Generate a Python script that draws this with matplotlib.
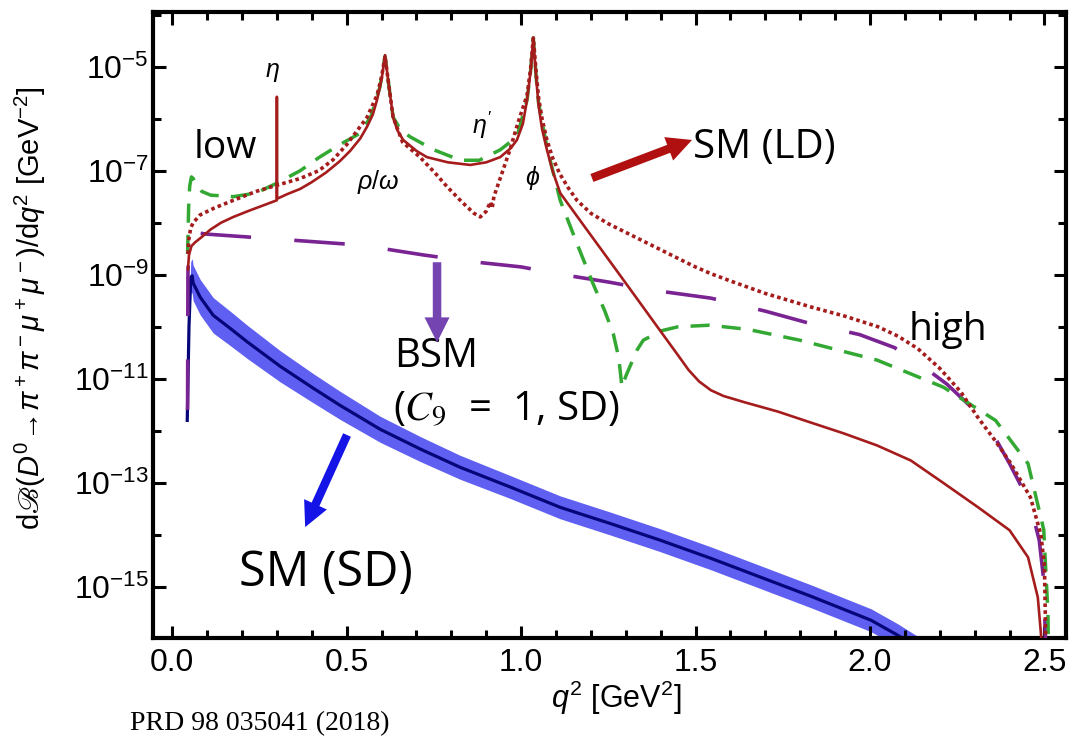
import numpy as np
import matplotlib
matplotlib.use("Agg")
import matplotlib.pyplot as plt
from matplotlib.ticker import FixedLocator, FuncFormatter

plt.rcParams['font.family'] = ['Liberation Sans', 'DejaVu Sans']
plt.rcParams['mathtext.fontset'] = 'custom'
plt.rcParams['mathtext.rm'] = 'Liberation Sans'
plt.rcParams['mathtext.it'] = 'Liberation Sans:italic'
plt.rcParams['mathtext.bf'] = 'Liberation Sans:bold'
plt.rcParams['mathtext.fallback'] = 'stix'

# ---------------- data (q^2 in GeV^2, log10 of dB/dq^2) ----------------
# SM long-distance, solid
ld_q2 = [0.045, 0.048, 0.055, 0.065, 0.080, 0.110, 0.140, 0.175, 0.220, 0.260,
         0.2995, 0.300, 0.3005, 0.330, 0.367, 0.400, 0.440, 0.480, 0.510, 0.539,
         0.558, 0.575, 0.587, 0.600, 0.610, 0.620, 0.633, 0.645, 0.662, 0.700,
         0.730, 0.790, 0.854, 0.900, 0.940, 0.970, 0.988, 1.005, 1.017, 1.027,
         1.035, 1.043, 1.050, 1.060, 1.074, 1.090, 1.112, 1.190, 1.264, 1.330,
         1.398, 1.450, 1.480, 1.510, 1.544, 1.580, 1.640, 1.736, 1.830, 1.925,
         2.020, 2.117, 2.210, 2.310, 2.400, 2.453, 2.481, 2.490, 2.495]
ld_log = [-8.90, -8.62, -8.45, -8.38, -8.30, -8.13, -8.00, -7.89, -7.77, -7.67,
          -7.57, -5.58, -7.54, -7.45, -7.35, -7.22, -7.04, -6.82, -6.62, -6.38,
          -6.16, -5.92, -5.64, -5.25, -4.78, -5.32, -5.97, -6.22, -6.41, -6.62,
          -6.74, -6.84, -6.89, -6.84, -6.74, -6.57, -6.41, -6.10, -5.64, -5.10,
          -4.45, -5.20, -5.75, -6.20, -6.60, -7.00, -7.43, -8.15, -8.83, -9.44,
          -10.07, -10.55, -10.83, -11.05, -11.22, -11.33, -11.45, -11.63, -11.84, -12.05,
          -12.28, -12.57, -13.00, -13.47, -13.91, -14.43, -15.20, -15.90, -16.5]

# SM long-distance variant, dotted
ld2_q2 = [0.045, 0.048, 0.053, 0.060, 0.080, 0.120, 0.175, 0.240, 0.300, 0.367,
          0.420, 0.461, 0.500, 0.539, 0.558, 0.587, 0.600, 0.610, 0.620, 0.633,
          0.660, 0.710, 0.750, 0.788, 0.830, 0.865, 0.883, 0.900, 0.912, 0.917,
          0.922, 0.945, 0.968, 0.990, 1.017, 1.027, 1.035, 1.043, 1.050, 1.060,
          1.074, 1.090, 1.110, 1.135, 1.160, 1.200, 1.250, 1.304, 1.400, 1.493,
          1.544, 1.600, 1.700, 1.831, 1.930, 2.023, 2.080, 2.137, 2.200, 2.260,
          2.310, 2.360, 2.404, 2.460, 2.490, 2.500, 2.505]
ld2_log = [-8.60, -8.30, -8.10, -8.00, -7.85, -7.72, -7.57, -7.40, -7.28, -7.15,
           -7.00, -6.79, -6.50, -6.15, -5.98, -5.55, -5.20, -4.80, -5.32, -5.97,
           -6.45, -6.74, -7.02, -7.31, -7.60, -7.82, -7.89, -7.78, -7.60, -7.72,
           -7.50, -7.05, -6.60, -6.10, -5.55, -5.05, -4.45, -5.10, -5.60, -6.00,
           -6.41, -6.75, -7.05, -7.33, -7.57, -7.82, -8.02, -8.20, -8.52, -8.83,
           -8.98, -9.12, -9.36, -9.62, -9.80, -10.00, -10.18, -10.42, -10.80, -11.25,
           -11.75, -12.20, -12.63, -13.28, -14.00, -14.60, -16.5]

# alternative long-distance model, green dashed
alt_q2 = [0.044, 0.047, 0.050, 0.055, 0.060, 0.067, 0.085, 0.110, 0.175, 0.240,
          0.300, 0.367, 0.420, 0.480, 0.539, 0.570, 0.595, 0.610, 0.620, 0.633,
          0.655, 0.682, 0.750, 0.826, 0.880, 0.940, 0.988, 1.017, 1.027, 1.035,
          1.043, 1.050, 1.074, 1.112, 1.160, 1.206, 1.240, 1.264, 1.280, 1.289,
          1.300, 1.332, 1.350, 1.400, 1.450, 1.540, 1.650, 1.800, 2.020, 2.210,
          2.360, 2.453, 2.498, 2.510, 2.512]
alt_log = [-8.60, -7.70, -7.30, -7.12, -7.15, -7.25, -7.40, -7.47, -7.50, -7.43,
           -7.24, -7.00, -6.75, -6.50, -6.28, -5.95, -5.40, -4.80, -5.32, -5.97,
           -6.22, -6.35, -6.60, -6.80, -6.80, -6.60, -6.35, -5.64, -5.10, -4.45,
           -5.20, -5.70, -6.55, -7.57, -8.40, -9.17, -9.70, -10.13, -10.60, -11.16,
           -10.95, -10.45, -10.26, -10.08, -10.00, -9.97, -10.05, -10.26, -10.64, -11.16,
           -11.80, -12.63, -13.90, -15.50, -16.5]

# BSM (C9 = 1, SD), purple long dashes
bsm_q2 = [0.044, 0.045, 0.048, 0.055, 0.100, 0.270, 0.539, 0.720, 0.860, 1.000,
          1.120, 1.250, 1.380, 1.544, 1.700, 1.830, 1.970, 2.070, 2.140, 2.220,
          2.310, 2.360, 2.400, 2.440, 2.466, 2.485, 2.498, 2.505]
bsm_log = [-11.6, -9.0, -8.30, -8.18, -8.22, -8.30, -8.43, -8.62, -8.75, -8.85,
           -9.00, -9.14, -9.30, -9.45, -9.70, -9.94, -10.15, -10.40, -10.70, -11.10,
           -11.67, -12.15, -12.63, -13.15, -13.60, -14.10, -14.87, -16.5]

# SM short-distance, central value and band half-width (decades)
sd_q2 = [0.043, 0.048, 0.053, 0.057, 0.060, 0.080, 0.1175, 0.166, 0.215, 0.3095,
         0.404, 0.481, 0.596, 0.711, 0.825, 0.969, 1.112, 1.255, 1.398, 1.544,
         1.831, 2.003, 2.080, 2.158]
sd_log = [-11.8, -10.0, -9.05, -9.02, -9.16, -9.43, -9.78, -10.03, -10.29, -10.76,
          -11.18, -11.51, -11.97, -12.35, -12.70, -13.08, -13.47, -13.78, -14.10, -14.45,
          -15.18, -15.64, -15.93, -16.26]
sd_err = [0.0, 0.15, 0.30, 0.33, 0.34, 0.34, 0.34, 0.33, 0.32, 0.30,
          0.28, 0.27, 0.25, 0.24, 0.23, 0.22, 0.22, 0.22, 0.22, 0.22,
          0.22, 0.22, 0.22, 0.22]

xticks = [0.0, 0.5, 1.0, 1.5, 2.0, 2.5]
ytick_exp = [-15, -13, -11, -9, -7, -5]
yminor_exp = [-16, -14, -12, -10, -8, -6, -4]

# ---------------- figure ----------------
fig = plt.figure(figsize=(10.71, 7.47), dpi=100)
ax = fig.add_axes([0.1429, 0.146, 0.8525, 0.838])
ax.set_yscale('log')

c_red = '#a51c1c'
c_green = '#33a833'
c_purple = '#7a2393'

sdq = np.array(sd_q2)
sdc = np.array(sd_log)
sde = np.array(sd_err)
ax.fill_between(sdq, 10 ** (sdc - sde), 10 ** (sdc + sde), color='#5656f2',
                lw=0, alpha=0.95, zorder=1)
ax.plot(sdq, 10 ** sdc, color='#06067a', lw=2.3, zorder=2)

ax.plot(bsm_q2, 10 ** np.array(bsm_log), color=c_purple, lw=2.6,
        linestyle=(0, (14, 12)), zorder=3)
ax.plot(alt_q2, 10 ** np.array(alt_log), color=c_green, lw=2.5,
        linestyle=(0, (5.5, 3.5)), zorder=4)
ax.plot(ld2_q2, 10 ** np.array(ld2_log), color=c_red, lw=2.6,
        linestyle=(0, (1, 0.9)), zorder=5)
ax.plot(ld_q2, 10 ** np.array(ld_log), color=c_red, lw=1.9, zorder=6)

ax.set_xlim(-0.055, 2.562)
ax.set_ylim(10 ** -15.98, 10 ** -3.95)

ax.xaxis.set_major_locator(FixedLocator(xticks))
ax.xaxis.set_minor_locator(FixedLocator(np.round(np.arange(0.0, 2.55, 0.1), 2)))
ax.xaxis.set_major_formatter(FuncFormatter(lambda v, p: f'{v:.1f}'))
ax.yaxis.set_major_locator(FixedLocator([10.0 ** e for e in ytick_exp]))
ax.yaxis.set_minor_locator(FixedLocator([10.0 ** e for e in yminor_exp]))
ax.yaxis.set_major_formatter(FuncFormatter(
    lambda v, p: r'$\mathdefault{10^{%d}}$' % int(round(np.log10(v)))))
ax.yaxis.set_minor_formatter(FuncFormatter(lambda v, p: ''))

for s in ax.spines.values():
    s.set_linewidth(3.0)
ax.tick_params(which='both', direction='in', top=True, right=True, width=2.2,
               labelsize=23, colors='black')
ax.tick_params(which='major', length=9)
ax.tick_params(axis='x', which='major', pad=7)
ax.tick_params(axis='y', which='major', pad=3)
ax.tick_params(which='minor', length=6)

# axis labels
fig.text(30 / 1071, 1 - 308 / 747,
         r'd$ℬ$($D^0\!\rightarrow\!\pi^+\pi^-\mu^+\mu^-$)/d$q^2$ [GeV$^{-2}$]',
         rotation=90, ha='center', va='center', fontsize=21)
fig.text(616 / 1071, 1 - 698 / 747, r'$q^2$ [GeV$^2$]', ha='center', va='center',
         fontsize=22)
fig.text(260 / 1071, 1 - 724 / 747, 'PRD 98 035041 (2018)', ha='center',
         va='center', fontsize=20, family='Liberation Serif')

# annotations
ann = dict(family=['Open Sans', 'DejaVu Sans'], color='black')
ax.text(0.152, 10 ** -6.57, 'low', ha='center', va='center', fontsize=28, **ann)
ax.text(2.222, 10 ** -10.06, 'high', ha='center', va='center', fontsize=28, **ann)
ax.text(1.493, 10 ** -6.56, 'SM (LD)', ha='left', va='center', fontsize=29, **ann)
ax.text(0.756, 10 ** -10.58, 'BSM', ha='center', va='center', fontsize=29, **ann)
ax.text(0.957, 10 ** -11.60, r'($C_9$  =  1, SD)', ha='center', va='center',
        fontsize=29, math_fontfamily='stix', **ann)
ax.text(0.441, 10 ** -14.74, 'SM (SD)', ha='center', va='center', fontsize=35, **ann)

ax.text(0.287, 10 ** -5.10, r'$\eta$', ha='center', va='center', fontsize=18)
ax.text(0.590, 10 ** -7.22, r'$\rho/\omega$', ha='center', va='center', fontsize=18)
ax.text(0.888, 10 ** -6.12, r"$\eta'$", ha='center', va='center', fontsize=18)
ax.text(1.034, 10 ** -7.14, r'$\phi$', ha='center', va='center', fontsize=18)

def arrow(x0, y0, x1, y1, color):
    ax.annotate('', xy=(x1, 10 ** y1), xytext=(x0, 10 ** y0),
                arrowprops=dict(arrowstyle='simple,head_length=1.0,head_width=1.0,tail_width=0.34',
                                mutation_scale=18, color=color, shrinkA=0, shrinkB=0,
                                lw=0), zorder=8)

arrow(1.203, -7.14, 1.490, -6.41, '#b01010')
arrow(0.759, -8.76, 0.759, -10.30, '#7444b0')
arrow(0.501, -12.08, 0.381, -13.85, '#1414e6')

fig.savefig('out.png', dpi=100)
